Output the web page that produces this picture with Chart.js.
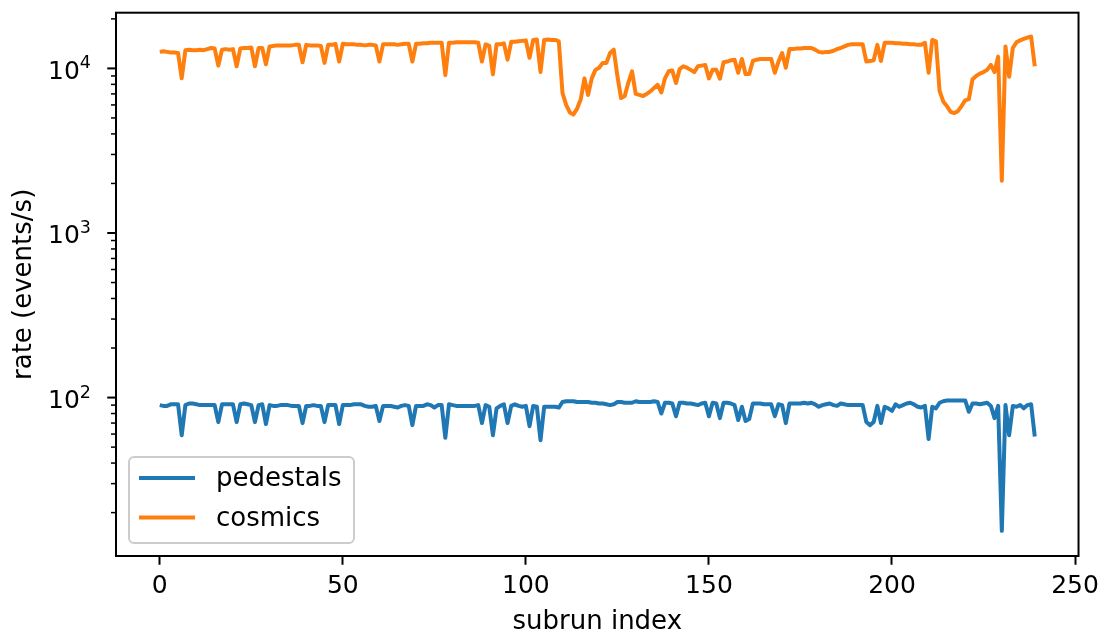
<!DOCTYPE html>
<html>
<head>
<meta charset="utf-8">
<script src="https://cdn.jsdelivr.net/npm/chart.js@4.4.1/dist/chart.umd.min.js"></script>
<style>
  html, body { margin: 0; padding: 0; background: #fff; }
  canvas { display: block; }
</style>
</head>
<body>
<canvas id="rateChart" width="1106" height="639"></canvas>
<script>
// subrun rates (events/s)
const pedestals = [
  90, 89, 89, 91, 91, 91, 59, 90, 92, 92,
  91, 90, 90, 90, 90, 90, 71, 91, 91, 91,
  91, 71, 91, 92, 91, 90, 71, 90, 91, 69,
  90, 89, 89, 90, 90, 90, 89, 89, 89, 70,
  89, 89, 90, 89, 89, 71, 90, 90, 90, 69,
  90, 90, 90, 91, 91, 91, 89, 88, 88, 89,
  72, 89, 89, 89, 88, 87, 89, 90, 89, 68,
  89, 89, 89, 91, 90, 87, 90, 90, 57, 91,
  90, 89, 89, 89, 89, 89, 89, 90, 70, 90,
  88, 59, 86, 89, 91, 70, 89, 91, 89, 88,
  89, 67, 89, 88, 55, 88, 88, 88, 88, 87,
  94, 95, 95, 95, 94, 94, 94, 94, 93, 93,
  92, 92, 91, 90, 91, 94, 94, 93, 93, 93,
  95, 94, 94, 94, 94, 95, 94, 80, 93, 93,
  92, 77, 93, 93, 92, 92, 91, 90, 92, 93,
  77, 93, 92, 75, 93, 93, 92, 90, 73, 88,
  72, 74, 92, 92, 92, 91, 91, 91, 77, 91,
  90, 70, 92, 92, 92, 92, 93, 92, 93, 91,
  88, 90, 91, 92, 90, 89, 92, 91, 90, 90,
  90, 90, 90, 71, 68, 71, 89, 70, 88, 86,
  83, 91, 88, 90, 92, 93, 91, 88, 87, 89,
  56, 88, 86, 93, 95, 96, 96, 96, 96, 96,
  96, 82, 92, 92, 91, 92, 93, 89, 75, 89,
  15.5, 90, 59, 89, 88, 90, 86, 90, 91, 58
];

const cosmics = [
  12600, 12700, 12600, 12500, 12500, 12400, 8700, 12900, 13000, 12900,
  12900, 13000, 12900, 13100, 13300, 13200, 10400, 13000, 13100, 13000,
  13100, 10300, 13200, 13300, 13300, 13400, 10300, 13300, 13300, 10600,
  13600, 13700, 13800, 13800, 13800, 13800, 13800, 13900, 13900, 10900,
  13900, 13800, 13800, 13800, 13700, 10800, 13900, 13900, 14100, 11000,
  14100, 14000, 14000, 14000, 13900, 13900, 13800, 13900, 13900, 13800,
  11000, 14000, 14000, 14000, 14000, 13900, 14000, 14100, 14100, 11000,
  14100, 14100, 14200, 14200, 14300, 14300, 14300, 14300, 9100, 14300,
  14300, 14400, 14400, 14400, 14400, 14400, 14400, 14300, 11000, 14000,
  13700, 9200, 14000, 14000, 14200, 11300, 14500, 14500, 14600, 14700,
  14800, 11600, 14900, 15000, 9500, 14900, 15000, 14900, 14900, 14600,
  7100, 6000, 5400, 5250, 5700, 6500, 8700, 6900, 8700, 9800,
  10100, 10800, 10800, 12400, 13000, 9000, 6600, 6800, 8200, 9600,
  7000, 6900, 6800, 7000, 7250, 7600, 7950, 7150, 8700, 9600,
  9700, 8150, 9900, 10300, 10100, 9800, 9500, 10300, 10400, 10500,
  8700, 9800, 9800, 8650, 10900, 11000, 11200, 11300, 9400, 11400,
  9250, 9250, 11100, 11300, 11400, 11400, 11400, 11400, 9400, 11000,
  12400, 10100, 13100, 13100, 13200, 13200, 13300, 13300, 13300, 13000,
  12600, 12500, 12600, 12600, 12800, 13100, 13300, 13600, 13900, 14000,
  14000, 14000, 14000, 11000, 11100, 11200, 13900, 11100, 14300, 14300,
  14300, 14200, 14200, 14100, 14100, 14000, 14000, 13900, 13900, 14300,
  9400, 14900, 14600, 7300, 6300, 5900, 5450, 5350, 5500, 5900,
  6400, 6500, 8600, 9000, 9300, 9500, 9800, 10500, 9500, 11800,
  2080, 13600, 8900, 13300, 14400, 14800, 15100, 15400, 15600, 10300
];

const subrunIndex = pedestals.map((_, i) => i);
const xTicks = [0, 50, 100, 150, 200, 250];
const yMajorTicks = [100, 1000, 10000];

const FONT = "'DejaVu Sans', 'Liberation Sans', sans-serif";

// minor ticks at 2..9 x decade, clipped to the axis range later
const yAllTicks = [];
[10, 100, 1000, 10000].forEach((d) => {
  for (let k = 1; k <= 9; k++) yAllTicks.push(d * k);
});

// frame, y tick marks with superscript labels, and the legend box
const mplStyle = {
  id: "mplStyle",
  afterDatasetsDraw(chart) {
    const { ctx, chartArea: a } = chart;
    const y = chart.scales.y;
    ctx.save();

    // y tick marks
    ctx.strokeStyle = "#000";
    y.ticks.forEach((t) => {
      const py = y.getPixelForValue(t.value);
      const major = yMajorTicks.includes(t.value);
      ctx.lineWidth = major ? 2 : 1.5;
      ctx.beginPath();
      ctx.moveTo(a.left, py);
      ctx.lineTo(a.left - (major ? 8.75 : 5), py);
      ctx.stroke();
    });

    // y labels as 10 with raised exponent
    ctx.fillStyle = "#000";
    ctx.textBaseline = "alphabetic";
    ctx.textAlign = "right";
    const right = a.left - 25;
    yMajorTicks.forEach((v) => {
      const py = y.getPixelForValue(v);
      const exp = String(Math.round(Math.log10(v)));
      ctx.font = "17.5px " + FONT;
      const supW = ctx.measureText(exp).width;
      ctx.fillText(exp, right, py);
      ctx.font = "25px " + FONT;
      ctx.fillText("10", right - supW, py + 10.3);
    });

    // frame
    ctx.lineWidth = 2;
    ctx.strokeRect(a.left, a.top, a.right - a.left, a.bottom - a.top);

    // legend
    const bx = a.left + 13, by = a.bottom - 99, bw = 225, bh = 86;
    ctx.beginPath();
    ctx.roundRect(bx, by, bw, bh, 5);
    ctx.fillStyle = "rgba(255,255,255,0.8)";
    ctx.fill();
    ctx.strokeStyle = "#cccccc";
    ctx.lineWidth = 2;
    ctx.stroke();

    ctx.font = "26px " + FONT;
    ctx.textAlign = "left";
    ctx.textBaseline = "middle";
    chart.data.datasets.forEach((ds, i) => {
      const ry = by + 21 + i * 39.5;
      ctx.strokeStyle = ds.borderColor;
      ctx.lineWidth = 4;
      ctx.beginPath();
      ctx.moveTo(bx + 10, ry);
      ctx.lineTo(bx + 66, ry);
      ctx.stroke();
      ctx.fillStyle = "#000";
      ctx.fillText(ds.label, bx + 87, ry + 1.5);
    });

    ctx.restore();
  },
};

new Chart(document.getElementById("rateChart"), {
  type: "line",
  data: {
    datasets: [
      {
        label: "pedestals",
        data: pedestals.map((v, i) => ({ x: subrunIndex[i], y: v })),
        borderColor: "#1f77b4",
      },
      {
        label: "cosmics",
        data: cosmics.map((v, i) => ({ x: subrunIndex[i], y: v })),
        borderColor: "#ff7f0e",
      },
    ],
  },
  options: {
    responsive: false,
    animation: false,
    devicePixelRatio: 1,
    layout: { padding: { left: 0, right: 27, top: 12.7, bottom: 0 } },
    elements: {
      line: { borderWidth: 4, tension: 0, borderJoinStyle: "round", fill: false },
      point: { radius: 0, hoverRadius: 0 },
    },
    plugins: {
      legend: { display: false },
      tooltip: { enabled: false },
    },
    scales: {
      x: {
        type: "linear",
        min: -11.95,
        max: 250.95,
        afterBuildTicks: (s) => { s.ticks = xTicks.map((v) => ({ value: v })); },
        afterFit: (s) => { s.height = 83; },
        ticks: {
          autoSkip: false,
          maxRotation: 0,
          padding: 7,
          color: "#000",
          font: { family: FONT, size: 25 },
          callback: (v) => String(v),
        },
        grid: {
          display: true,
          drawOnChartArea: false,
          drawTicks: true,
          tickLength: 8.75,
          tickWidth: 2,
          tickColor: "#000",
        },
        border: { display: false },
        title: {
          display: true,
          text: "subrun index",
          color: "#000",
          font: { family: FONT, size: 26 },
          padding: { top: 0, bottom: 1 },
        },
      },
      y: {
        type: "logarithmic",
        min: 10.9,
        max: 21800,
        afterBuildTicks: (s) => {
          s.ticks = yAllTicks.filter((v) => v >= s.min && v <= s.max).map((v) => ({ value: v }));
        },
        afterFit: (s) => { s.width = 116; },
        ticks: { display: false, autoSkip: false },
        grid: { display: false },
        border: { display: false },
        title: {
          display: true,
          text: "rate (events/s)",
          color: "#000",
          font: { family: FONT, size: 26 },
          padding: { top: 9, bottom: 0 },
        },
      },
    },
  },
  plugins: [mplStyle],
});
</script>
</body>
</html>
